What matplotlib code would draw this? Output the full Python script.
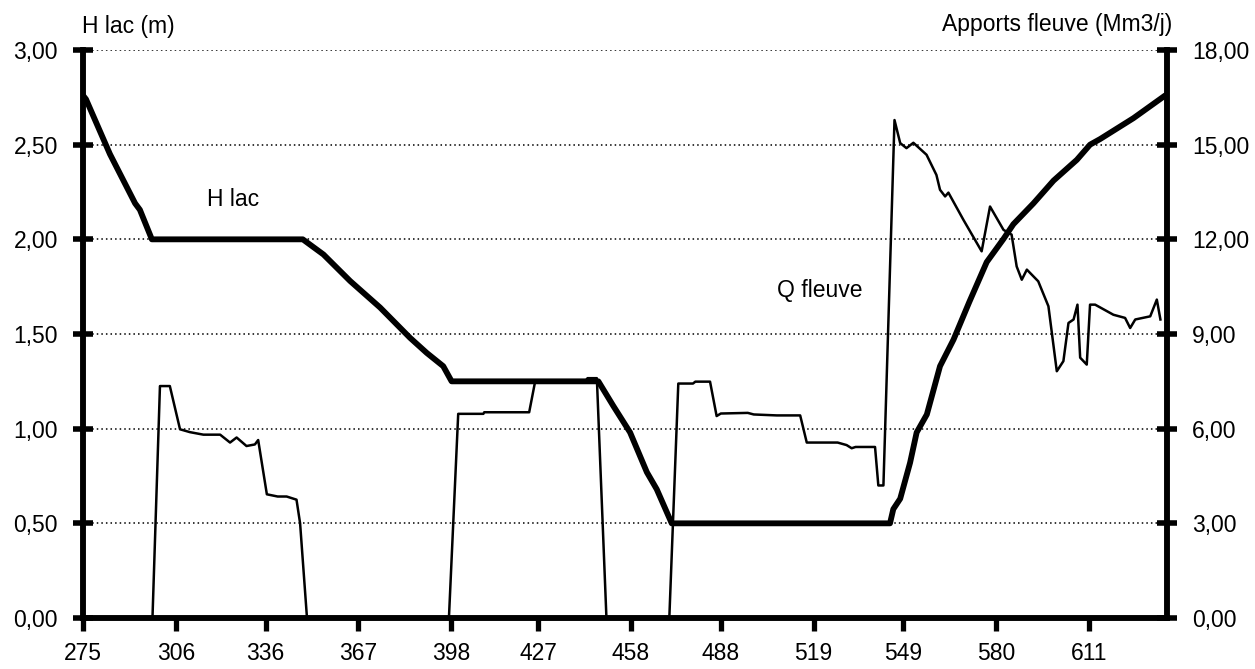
import matplotlib
matplotlib.use("Agg")
import matplotlib.pyplot as plt
from matplotlib.ticker import FuncFormatter, FixedLocator

# ---- data ----
x_ticks = [275, 306, 336, 367, 398, 427, 458, 488, 519, 549, 580, 611]

hlac_days = [275, 276, 284, 292.4, 294, 298, 348.4, 355.3, 364.2, 374.2, 384.2,
             389.8, 395.3, 398.1, 447.1, 452.1, 457.7, 463.3, 466.6, 471.6,
             544.5, 545.6, 547.9, 551.2, 553.4, 556.8, 561.2, 565.7, 571,
             576.8, 582.3, 585.7, 592.4, 599.1, 606.9, 611.3, 614.7, 625.8, 636.4]
hlac_vals = [2.76, 2.74, 2.45, 2.19, 2.156, 2.00, 2.00, 1.92, 1.78, 1.64, 1.48,
             1.40, 1.33, 1.25, 1.25, 1.12, 0.98, 0.77, 0.68, 0.50,
             0.50, 0.575, 0.63, 0.82, 0.98, 1.075, 1.33, 1.47, 1.67,
             1.88, 2.00, 2.08, 2.19, 2.31, 2.42, 2.50, 2.53, 2.64, 2.76]

q_days = [298.2, 300.7, 304, 307.4, 310.7, 315.2, 320.8, 324.1, 326.3, 329.6,
          332.4, 333.5, 336.4, 340, 343, 346.3, 347.5, 349.8,
          397.2, 400.3, 408.7, 409, 424, 426, 442.7, 443.5, 446.6, 449.8,
          470.8, 473.8, 478.7, 479.5, 484.4, 486.6, 488, 497, 499, 506.7,
          514.5, 516.7, 527, 530, 531.7, 533, 539.5, 540.6, 542.3,
          546, 547.9, 550, 552.3, 556.7, 560, 561.2, 562.9, 564, 569, 575.1,
          577.9, 582.4, 585.1, 586.8, 588.5, 590.2, 594, 597.4, 600.2, 602.4,
          604.1, 605.8, 607.1, 608, 610.2, 611.3, 613, 619.1, 623, 624.7,
          626.4, 631.4, 633.6, 634.8]
q_vals = [0, 7.35, 7.35, 5.98, 5.89, 5.81, 5.81, 5.56, 5.72, 5.45,
          5.50, 5.64, 3.92, 3.85, 3.85, 3.75, 3.0, 0,
          0, 6.47, 6.47, 6.52, 6.52, 7.50, 7.50, 7.60, 7.60, 0,
          0, 7.43, 7.43, 7.49, 7.49, 6.40, 6.48, 6.50, 6.45, 6.42,
          6.42, 5.56, 5.56, 5.48, 5.38, 5.42, 5.42, 4.20, 4.20,
          15.78, 15.05, 14.89, 15.06, 14.68, 14.04, 13.57, 13.36, 13.48, 12.62, 11.62,
          13.04, 12.30, 12.15, 11.14, 10.72, 11.04, 10.67, 9.88, 7.82, 8.14,
          9.35, 9.46, 9.93, 8.25, 8.03, 9.93, 9.93, 9.61, 9.51, 9.19,
          9.46, 9.56, 10.09, 9.46]

left_ticks = [0, 0.5, 1.0, 1.5, 2.0, 2.5, 3.0]
right_ticks = [0, 3, 6, 9, 12, 15, 18]

# ---- figure ----
plt.rcParams['font.family'] = ['Liberation Sans', 'DejaVu Sans']
W, H = 1255, 669
FS = 16.5
fig = plt.figure(figsize=(W / 100, H / 100), dpi=100)
L, R, T, B = 83, 1167, 50, 618
ax = fig.add_axes([L / W, 1 - B / H, (R - L) / W, (B - T) / H])
ax2 = ax.twinx()

ax.set_xlim(275, 637)
ax.set_ylim(0, 3)
ax2.set_ylim(0, 18)

ax.yaxis.set_major_locator(FixedLocator(left_ticks))
ax2.yaxis.set_major_locator(FixedLocator(right_ticks))
ax.xaxis.set_major_locator(FixedLocator(x_ticks))

fmt = FuncFormatter(lambda v, p: f"{v:.2f}".replace('.', ','))
ax.yaxis.set_major_formatter(fmt)
ax2.yaxis.set_major_formatter(fmt)
ax.xaxis.set_major_formatter(FuncFormatter(lambda v, p: f"{int(round(v))}"))

ax.grid(axis='y', color='black', linestyle=(0, (1, 2)), linewidth=1.1)
ax.set_axisbelow(True)

ax.plot(hlac_days, hlac_vals, color='black', linewidth=4.2,
        solid_joinstyle='round', solid_capstyle='round', zorder=3)
ax2.plot(q_days, q_vals, color='black', linewidth=1.8,
         solid_joinstyle='round', zorder=3)

for a in (ax, ax2):
    a.spines['top'].set_visible(False)
    for s in ('left', 'right', 'bottom'):
        a.spines[s].set_linewidth(4)
ax2.patch.set_visible(False)

ax.tick_params(axis='y', direction='inout', length=15, width=4, pad=10.5,
               labelsize=FS)
ax2.tick_params(axis='y', direction='inout', length=15, width=4, pad=10.5,
                labelsize=FS)
ax.tick_params(axis='x', direction='out', length=9.5, width=3.8, pad=7.5,
               labelsize=FS)

def ftext(x, y, s, ha='left'):
    fig.text(x / W, 1 - y / H, s, ha=ha, va='center', fontsize=FS)

ftext(82, 27, "H lac (m)")
ftext(1172, 25, "Apports fleuve (Mm3/j)", ha='right')
ftext(207, 200, "H lac")
ftext(777, 290, "Q fleuve")

fig.savefig("out.png", dpi=100)
